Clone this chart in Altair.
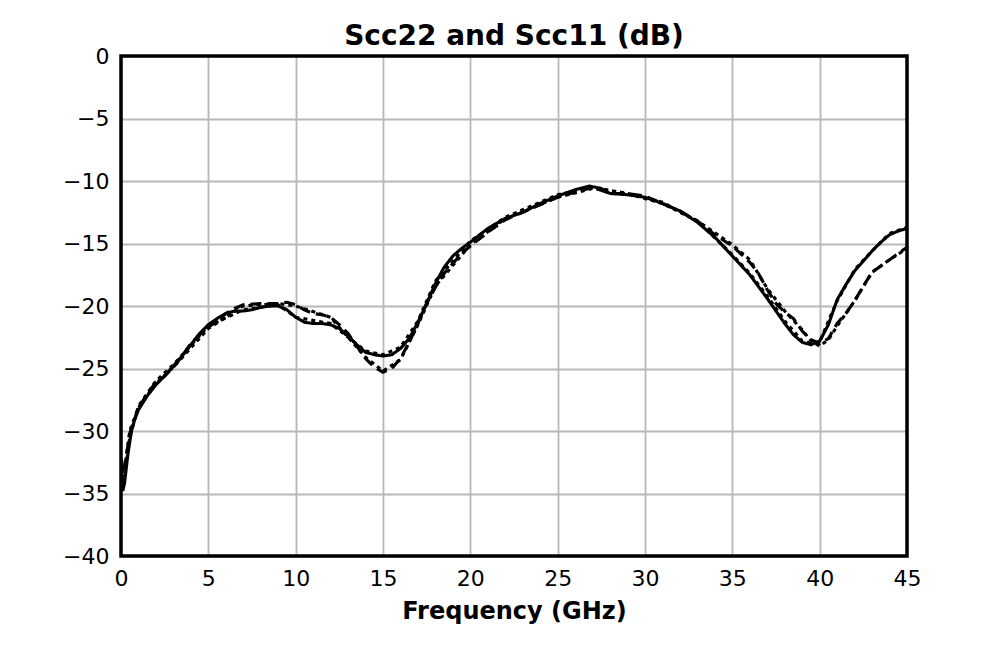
import altair as alt
import pandas as pd

# Solid line (Scc22)
f_solid = [0, 0.1, 0.2, 0.4, 0.6, 0.8, 1, 1.5, 2, 2.5, 3, 3.5, 4, 4.5, 5, 5.5, 6, 6.5, 7, 7.5,
           8, 8.5, 9, 9.5, 10, 10.5, 11, 11.5, 12, 12.5, 13, 13.5, 14, 14.5, 15, 15.5, 16, 16.5,
           17, 17.5, 18, 18.5, 19, 19.5, 20, 21, 22, 23, 24, 25, 26, 26.8, 27.5, 28, 29, 30,
           31, 32, 33, 34, 35, 36, 37, 37.5, 38, 38.5, 39, 39.5, 40, 40.5, 41, 41.5, 42, 42.5,
           43, 43.5, 44, 44.5, 45]
v_solid = [-33, -34.8, -34.2, -31.8, -30.0, -29.0, -28.3, -27.2, -26.3, -25.6, -24.8, -24.0,
           -23.1, -22.2, -21.5, -21.0, -20.6, -20.4, -20.4, -20.3, -20.1, -20.0, -20.0, -20.3,
           -20.9, -21.3, -21.4, -21.4, -21.5, -21.8, -22.4, -23.1, -23.7, -23.9, -24.0, -23.9,
           -23.4, -22.6, -21.3, -19.8, -18.2, -16.9, -16.0, -15.4, -14.9, -13.8, -13.0, -12.5,
           -11.8, -11.2, -10.7, -10.4, -10.6, -11.0, -11.1, -11.3, -11.8, -12.4, -13.3, -14.5,
           -16.0, -17.5, -19.4, -20.4, -21.4, -22.3, -22.9, -23.1, -22.8, -21.5, -19.5, -18.3,
           -17.2, -16.4, -15.6, -14.9, -14.3, -14.0, -13.8]

# Dashed line (Scc11)
f_dash = [0, 0.1, 0.3, 0.5, 0.8, 1, 1.5, 2, 2.5, 3, 3.5, 4, 4.5, 5, 5.5, 6, 6.5, 7, 8, 9, 9.5,
          10, 10.5, 11, 11.5, 12, 12.5, 13, 13.5, 14, 14.5, 15, 15.5, 16, 16.5, 17, 17.5, 18,
          18.5, 19, 19.5, 20, 21, 22, 23, 24, 25, 26, 27, 28, 29, 30, 31, 32, 33, 34, 35, 36,
          36.5, 37, 37.5, 38, 38.5, 39, 39.5, 40, 40.5, 41, 41.5, 42, 42.5, 43, 43.5, 44, 44.5, 45]
v_dash = [-32.5, -33.5, -32.0, -30.2, -29.0, -28.2, -27.0, -26.1, -25.6, -24.9, -24.0, -23.0,
          -22.3, -21.7, -21.2, -20.6, -20.2, -19.9, -19.8, -19.8, -19.7, -19.9, -20.3, -20.6,
          -20.7, -20.9, -21.5, -22.2, -23.2, -24.2, -24.9, -25.3, -25.0, -24.2, -22.9, -21.4,
          -19.8, -18.5, -17.4, -16.6, -15.8, -15.2, -14.1, -13.1, -12.5, -11.9, -11.3, -10.9,
          -10.5, -11.0, -11.0, -11.2, -11.8, -12.4, -13.2, -14.3, -15.2, -16.5, -17.4, -18.7,
          -19.8, -20.5, -21.0, -22.0, -22.7, -23.0, -22.6, -21.4, -20.6, -19.6, -18.4, -17.3,
          -16.8, -16.3, -15.8, -15.3]

# Dotted lines (companions)
f_dot1 = [0, 0.2, 0.5, 1, 2, 3, 5, 7, 9, 10, 12, 14, 15, 16, 17, 18, 20, 22, 25, 27, 29, 31,
          33, 35, 36, 37, 38, 39, 39.5, 40, 40.5, 41, 42, 43, 44, 45]
v_dot1 = [-32.2, -33.8, -30.5, -28.0, -26.0, -24.7, -21.6, -20.3, -19.9, -20.9, -21.4, -23.6,
          -23.9, -23.3, -21.2, -18.0, -14.8, -12.9, -11.1, -10.5, -11.0, -11.7, -13.2, -15.9,
          -17.4, -19.2, -21.2, -22.8, -23.0, -22.9, -21.2, -19.6, -17.1, -15.6, -14.2, -13.7]
f_dot2 = [0, 0.2, 0.5, 1, 2, 3, 5, 7, 9, 10, 12, 14, 15, 16, 17, 18, 20, 22, 25, 27, 29, 31,
          33, 35, 36, 37, 38, 39, 39.5, 40, 40.5, 41, 42, 43, 44, 45]
v_dot2 = [-32.8, -33.2, -30.0, -28.1, -26.2, -24.9, -21.8, -20.0, -19.8, -20.0, -20.9, -24.1,
          -25.2, -24.3, -21.5, -18.4, -15.1, -13.0, -11.3, -10.6, -11.0, -11.8, -13.2, -15.1,
          -16.3, -18.6, -20.4, -21.9, -22.8, -23.2, -22.7, -21.6, -19.6, -17.3, -16.3, -15.4]

x_ticks = [0, 5, 10, 15, 20, 25, 30, 35, 40, 45]
y_ticks = [-40, -35, -30, -25, -20, -15, -10, -5, 0]

rows = []
for name, fs, vs in [("Scc22", f_solid, v_solid), ("Scc11", f_dash, v_dash),
                     ("Scc22 b", f_dot1, v_dot1), ("Scc11 b", f_dot2, v_dot2)]:
    for f, v in zip(fs, vs):
        rows.append({"series": name, "freq": f, "db": v})
df = pd.DataFrame(rows)

FONT = "DejaVu Sans"
W, H = 786, 500

lines = alt.Chart(df).mark_line(color="black", strokeWidth=3.1, clip=True).encode(
    x=alt.X("freq:Q", scale=alt.Scale(domain=[0, 45], nice=False),
            axis=alt.Axis(title="Frequency (GHz)", values=x_ticks)),
    y=alt.Y("db:Q", scale=alt.Scale(domain=[-40, 0], nice=False),
            axis=alt.Axis(title=None, values=y_ticks,
                          labelExpr="replace(datum.label, '-', '\u2212')")),
    detail="series:N",
    strokeDash=alt.StrokeDash("series:N",
                              scale=alt.Scale(domain=["Scc22", "Scc11", "Scc22 b", "Scc11 b"],
                                              range=[[1, 0], [11, 6], [4, 4], [4, 4]]),
                              legend=None),
    order=alt.Order("freq:Q"),
)

frame = alt.Chart(pd.DataFrame({"k": [0]})).mark_rect(
    fill="transparent", stroke="black", strokeWidth=3.5
).encode(x=alt.value(0), x2=alt.value(W), y=alt.value(0), y2=alt.value(H))

chart = alt.layer(lines, frame).properties(
    width=W, height=H,
    title=alt.TitleParams("Scc22 and Scc11 (dB)", fontSize=28, font=FONT, fontWeight="bold",
                          color="black", offset=-6),
    autosize=alt.AutoSizeParams(type="none"),
    padding={"left": 113, "top": 48, "right": 93, "bottom": 84},
).configure_view(
    stroke=None
).configure_axis(
    grid=True, gridColor="#b8b8b8", gridWidth=1.8, domain=False, ticks=False,
    labelFont=FONT, labelFontSize=22, labelColor="black", labelPadding=12,
    labelFlush=False, labelOverlap=False,
    titleFont=FONT, titleFontSize=24, titleFontWeight="bold", titleColor="black",
    titlePadding=10
)

chart.save("out.html", embed_options={"renderer": "svg", "actions": False})
